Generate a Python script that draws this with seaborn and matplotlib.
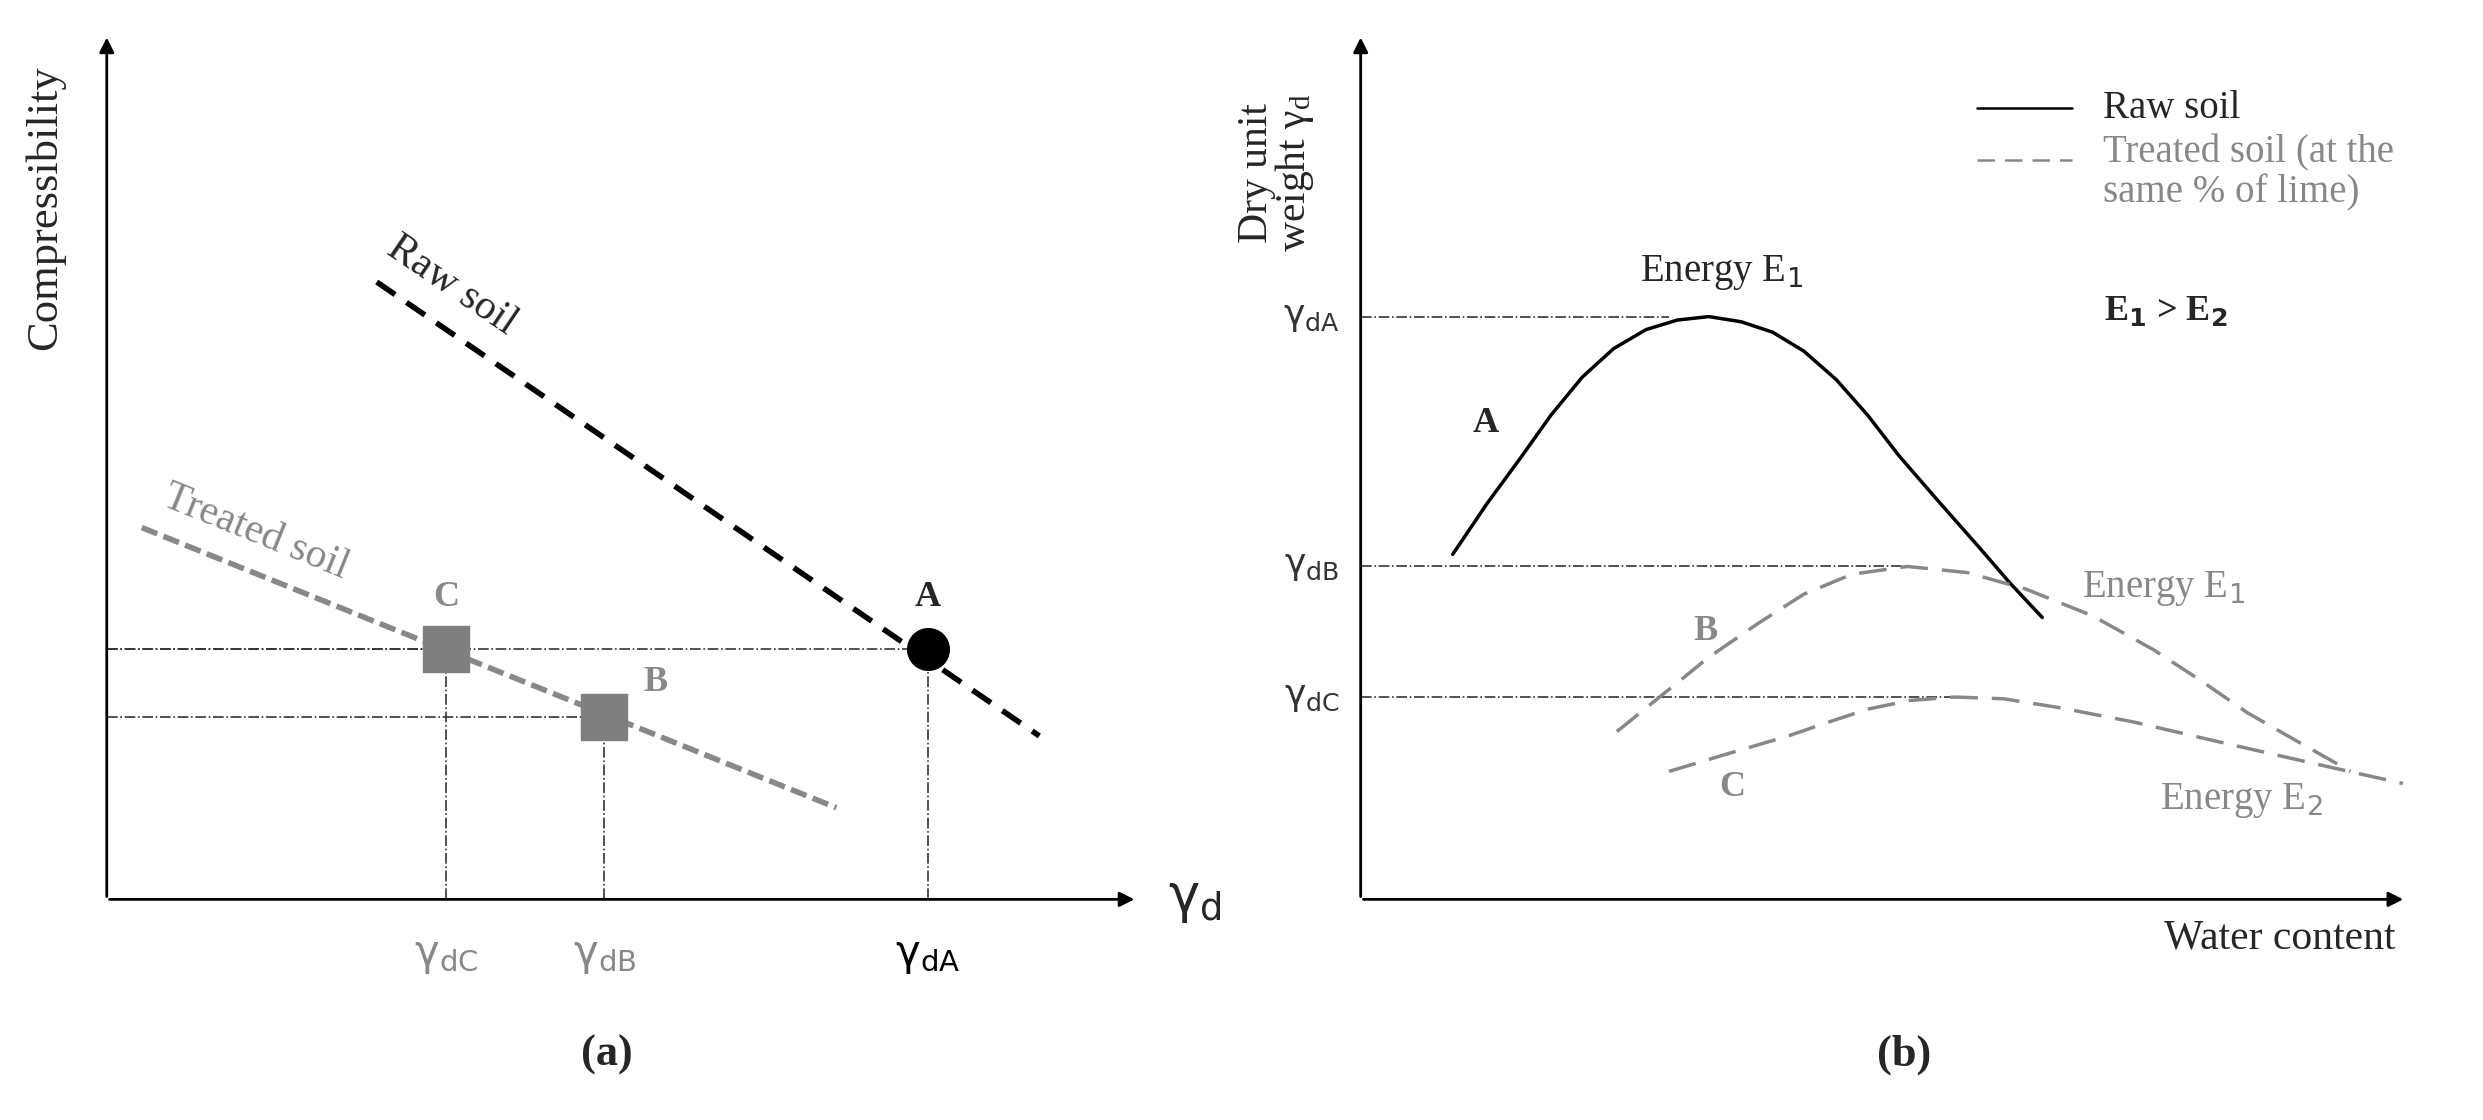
import numpy as np
import pandas as pd
import matplotlib
matplotlib.use("Agg")
import matplotlib.pyplot as plt
import seaborn as sns

sns.set_theme(style="white")
plt.rcParams['font.family'] = ['Liberation Serif', 'DejaVu Sans']

GREY = "#888888"

# panel (a) data (schematic units 0..100)
raw_x = [26.2, 90.5]
raw_y = [71.4, 18.9]
treated_x = [3.4, 70.8]
treated_y = [43.0, 10.6]
pt_names = ["A", "B", "C"]
pt_x = [79.7, 48.3, 32.9]
pt_y = [28.9, 21.1, 28.9]
tick_labels = [r"$\mathregular{\gamma_{dA}}$", r"$\mathregular{\gamma_{dB}}$", r"$\mathregular{\gamma_{dC}}$"]

# panel (b) data
rawc_x = [8.8, 12.1, 15.2, 18.2, 21.2, 24.2, 27.3, 30.3, 33.3, 36.4, 39.4, 42.4, 45.5,
          48.5, 51.5, 55.3, 59.1, 62.1, 65.2]
rawc_y = [39.9, 45.8, 50.9, 56.0, 60.4, 63.7, 65.9, 67.0, 67.4, 66.8, 65.6, 63.4, 60.1,
          56.0, 51.3, 46.0, 40.8, 36.6, 32.6]
e1_x = [24.5, 29.0, 33.3, 38.0, 42.4, 47.0, 52.3, 58.0, 63.6, 70.0, 75.8, 80.5, 84.8, 90.0, 94.7]
e1_y = [19.4, 23.8, 28.0, 31.9, 35.3, 37.6, 38.5, 37.8, 35.9, 32.8, 28.9, 25.2, 21.6, 18.0, 14.8]
e2_x = [29.5, 35.0, 40.9, 45.0, 48.5, 52.5, 56.8, 61.5, 66.7, 74.0, 81.8, 90.5, 99.7]
e2_y = [14.8, 16.8, 18.9, 20.6, 22.0, 23.0, 23.4, 23.2, 22.2, 20.5, 18.3, 15.9, 13.4]
gam_y = [67.4, 38.5, 23.4]
gam_end = [29.5, 52.3, 56.8]

fig = plt.figure(figsize=(24.83, 11.2), dpi=100)
ax1 = fig.add_axes([0.043, 0.197, 0.415, 0.772])
ax2 = fig.add_axes([0.548, 0.197, 0.421, 0.772])


def setup(ax):
    ax.set_xlim(0, 100)
    ax.set_ylim(0, 100)
    ax.axis("off")
    arr = dict(arrowstyle="-|>", color="black", lw=2, mutation_scale=22)
    ax.annotate("", xy=(100, 0), xytext=(0, 0), arrowprops=arr, annotation_clip=False)
    ax.annotate("", xy=(0, 100), xytext=(0, 0), arrowprops=arr, annotation_clip=False)


setup(ax1)
dd = dict(color="#333333", lw=1.2, linestyle="-.")
for x, y in zip(pt_x, pt_y):
    ax1.plot([0, x], [y, y], **dd)
    ax1.plot([x, x], [0, y], **dd)
sns.lineplot(x=raw_x, y=raw_y, ax=ax1, color="black", lw=4, linestyle=(0, (4, 2.5)))
sns.lineplot(x=treated_x, y=treated_y, ax=ax1, color=GREY, lw=4, linestyle=(0, (3, 1.2)))
ax1.scatter(pt_x[0], pt_y[0], s=900, color="black", zorder=5)
ax1.scatter(pt_x[1:], pt_y[1:], s=1100, marker="s", color="#7f7f7f", zorder=5)
ax1.text(pt_x[0], pt_y[0] + 5, "A", fontsize=26, fontweight="bold", ha="center")
ax1.text(pt_x[1] + 5, pt_y[1] + 3, "B", fontsize=26, fontweight="bold", ha="center", color=GREY)
ax1.text(pt_x[2], pt_y[2] + 5, "C", fontsize=26, fontweight="bold", ha="center", color=GREY)
for x, lab, c in zip(pt_x, tick_labels, ["black", GREY, GREY]):
    ax1.text(x, -4, lab, fontsize=30, ha="center", va="top", color=c, family="DejaVu Sans")
ax1.text(103, 0, r"$\mathregular{\gamma_d}$", fontsize=38, va="center", family="DejaVu Sans")
ax1.text(-6, 80, "Compressibility", fontsize=32, rotation=90, ha="center", va="center")
ax1.text(33.5, 71, "Raw soil", fontsize=30, rotation=-34, ha="center", va="center")
ax1.text(14.5, 42.5, "Treated soil", fontsize=30, rotation=-22, ha="center", va="center", color=GREY)
ax1.text(48.5, -18, "(a)", fontsize=32, fontweight="bold", ha="center", va="center")

setup(ax2)
for y, xe in zip(gam_y, gam_end):
    ax2.plot([0, xe], [y, y], **dd)
sns.lineplot(x=rawc_x, y=rawc_y, ax=ax2, color="black", lw=2.5, sort=False)
sns.lineplot(x=e1_x, y=e1_y, ax=ax2, color=GREY, lw=2.5, linestyle=(0, (8, 4)), sort=False)
sns.lineplot(x=e2_x, y=e2_y, ax=ax2, color=GREY, lw=2.5, linestyle=(0, (8, 4)), sort=False)
for y, lab in zip(gam_y, tick_labels):
    ax2.text(-2, y, lab, fontsize=26, ha="right", va="center", color="#333333", family="DejaVu Sans")
ax2.text(-8, 84, "Dry unit\nweight $\\mathregular{\\gamma_d}$", fontsize=30, rotation=90,
         ha="center", va="center", linespacing=0.9)
ax2.text(99, -4.5, "Water content", fontsize=30, ha="right", va="center")
ax2.text(34.5, 71.5, "Energy E$_1$", fontsize=28, ha="center")
ax2.text(69, 35, "Energy E$_1$", fontsize=28, color=GREY)
ax2.text(76.5, 10.5, "Energy E$_2$", fontsize=28, color=GREY)
ax2.text(12, 54, "A", fontsize=26, fontweight="bold", ha="center")
ax2.text(33, 30, "B", fontsize=26, fontweight="bold", ha="center", color=GREY)
ax2.text(35.5, 12, "C", fontsize=26, fontweight="bold", ha="center", color=GREY)
ax2.text(77, 67, "E$_\\mathbf{1}$ > E$_\\mathbf{2}$", fontsize=26, fontweight="bold", ha="center")
ax2.plot([59, 68], [91.5, 91.5], color="black", lw=1.8)
ax2.plot([59, 68], [85.5, 85.5], color=GREY, lw=1.8, linestyle=(0, (7, 4)))
ax2.text(71, 91.5, "Raw soil", fontsize=28, va="center")
ax2.text(71, 88.5, "Treated soil (at the\nsame % of lime)", fontsize=28, va="top",
         color=GREY, linespacing=1.1)
ax2.text(52, -18, "(b)", fontsize=32, fontweight="bold", ha="center", va="center")

fig.savefig("out.png", dpi=100)
